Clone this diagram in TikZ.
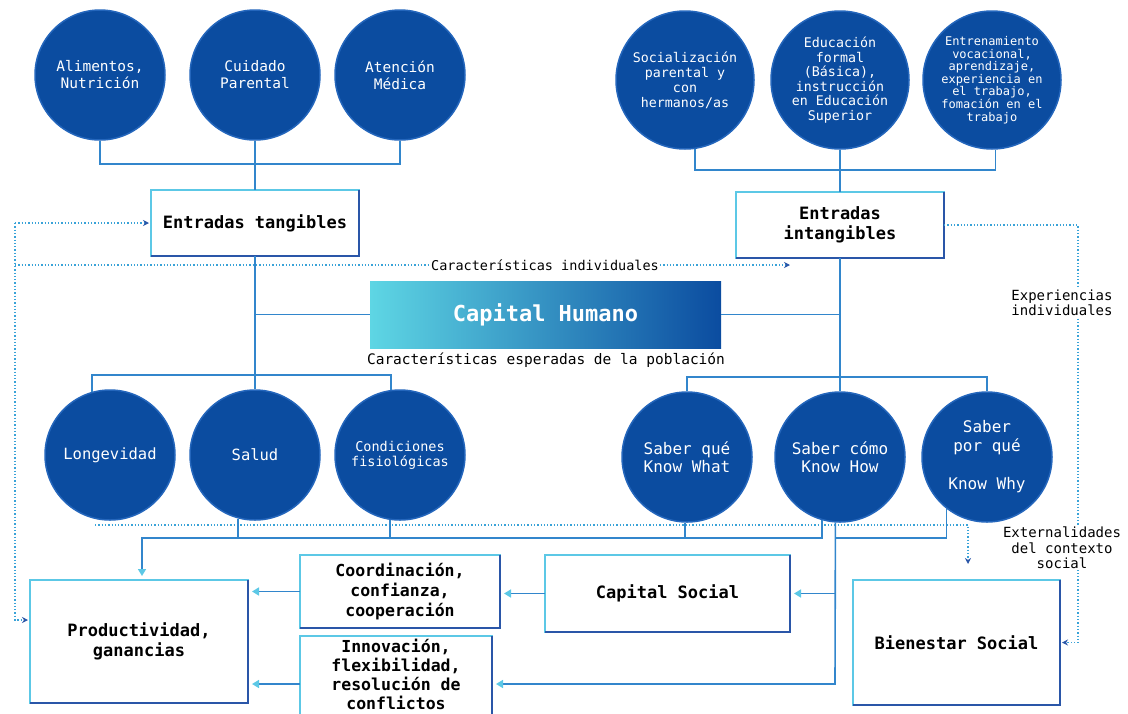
\documentclass[tikz,border=0pt]{standalone}
\usepackage{fontspec}
\setmainfont{DejaVu Sans Mono}
\usetikzlibrary{arrows.meta}

\definecolor{azul}{HTML}{0B4CA0}
\definecolor{bordec}{HTML}{2466BC}
\definecolor{cian}{HTML}{5CC8E6}
\definecolor{cianhum}{HTML}{5ED6E4}
\definecolor{oscuro}{HTML}{2A56A8}
\definecolor{linea}{HTML}{3286CC}
\definecolor{punto}{HTML}{3AA3D8}

\begin{document}
\begin{tikzpicture}[x=1pt, y=-1pt,
  circulo/.style={circle, fill=azul, draw=bordec, line width=1.5pt, inner sep=0pt, text=white, align=center},
  caja/.style={draw=cian, line width=1.6pt, fill=white, align=center, inner sep=0pt, outer sep=0pt,
    font=\bfseries\fontsize{17}{20}\selectfont},
  conn/.style={linea, line width=1.6pt},
  flecha/.style={conn, -{Triangle[length=7pt, width=8pt, color=cian]}, shorten >=4pt},
  punt/.style={punto, line width=1.3pt, dotted},
  ppunta/.style={-{Stealth[length=6pt, width=6pt, color=oscuro]}, shorten >=2pt},
  etiq/.style={fill=white, inner sep=1pt, align=center, font=\fontsize{14}{15.5}\selectfont}]
\useasboundingbox (0,0) rectangle (1128,713);
\def\ra{130pt} \def\rb{138pt}

% entradas tangibles
\node[circulo, minimum size=\ra, font=\fontsize{14.5}{17}\selectfont] (ali) at (100,75) {Alimentos,\\Nutrición};
\node[circulo, minimum size=\ra, font=\fontsize{14.5}{17}\selectfont] (cui) at (255,75) {Cuidado\\Parental};
\node[circulo, minimum size=\ra, font=\fontsize{14.5}{17}\selectfont] (ate) at (400,75) {Atención\\Médica};
\node[caja, minimum width=208pt, minimum height=66pt] (tang) at (255,223) {Entradas tangibles};

% entradas intangibles
\node[circulo, minimum size=\rb, font=\fontsize{13.3}{15}\selectfont] (soc) at (685,80)
  {Socialización\\parental y\\con\\hermanos/as};
\node[circulo, minimum size=\rb, font=\fontsize{13.3}{14.5}\selectfont] (edu) at (840,80)
  {Educación\\formal\\(Básica),\\instrucción\\en Educación\\Superior};
\node[circulo, minimum size=\rb, font=\fontsize{12}{12.6}\selectfont] (ent) at (992,80)
  {Entrenamiento\\vocacional,\\aprendizaje,\\experiencia en\\el trabajo,\\fomación en el\\trabajo};
\node[caja, minimum width=208pt, minimum height=66pt] (inta) at (840,225) {Entradas\\intangibles};

% capital humano
\node[minimum width=351pt, minimum height=67pt, inner sep=0pt, left color=cianhum, right color=azul,
  text=white, font=\bfseries\fontsize{22}{26}\selectfont] (capH) at (545.5,314.5) {Capital Humano};
\node[font=\fontsize{14.5}{16}\selectfont] (esp) at (546,360) {Características esperadas de la población};

% caracteristicas
\node[circulo, minimum size=\ra, font=\fontsize{15.5}{18}\selectfont] (lon) at (110,455) {Longevidad};
\node[circulo, minimum size=\ra, font=\fontsize{15.5}{18}\selectfont] (sal) at (255,455) {Salud};
\node[circulo, minimum size=\ra, font=\fontsize{13.5}{15}\selectfont] (cond) at (400,455) {Condiciones\\fisiológicas};
\node[circulo, minimum size=\ra, font=\fontsize{16}{18}\selectfont] (sq) at (687,457) {Saber qué\\Know What};
\node[circulo, minimum size=\ra, font=\fontsize{16}{18}\selectfont] (sc) at (840,457) {Saber cómo\\Know How};
\node[circulo, minimum size=\ra, font=\fontsize{16}{19}\selectfont] (spq) at (987,457) {Saber\\por qué\\[19pt]Know Why};

% resultados
\node[caja, minimum width=218pt, minimum height=123pt] (prod) at (139,641.5) {Productividad,\\ganancias};
\node[caja, minimum width=200pt, minimum height=73pt, font=\bfseries\fontsize{16.5}{20}\selectfont] (coord) at (400,591.5)
  {Coordinación,\\confianza,\\cooperación};
\node[caja, anchor=north, minimum width=192pt, inner ysep=3pt, text depth=12pt,
  font=\bfseries\fontsize{16.5}{19}\selectfont] (inno) at (396,636)
  {Innovación,\\flexibilidad,\\resolución de\\conflictos};
\node[caja, minimum width=245pt, minimum height=77pt] (cs) at (667.5,593.5) {Capital Social};
\node[caja, minimum width=207pt, minimum height=125pt] (bien) at (956.5,642.5) {Bienestar Social};

\foreach \b in {tang, inta, prod, coord, inno, cs, bien}
  \draw[oscuro, line width=1.6pt] (\b.north east) -- (\b.south east) -- (\b.south west);

% lineas punteadas
\coordinate (lt) at (15,223);
\coordinate (lm) at (15,265);
\coordinate (lb) at (15,620);
\coordinate (ci) at (792,265);
\coordinate (rt) at (1078,225);
\coordinate (pa) at (95,525);
\coordinate (pb) at (968,525);
\coordinate (pc) at (968,566);

\draw[punt, ppunta] (lt) -- (tang.west);
\draw[punt, ppunta] (lt) -- (lb) -- (lb -| prod.west);
\draw[punt, ppunta] (inta.east) -- (rt) |- (bien.east);
\draw[punt, ppunta] (pa) -- (pb) -- (pc);
\node[etiq, font=\fontsize{13.5}{15}\selectfont] (cind) at (545,265) {Características individuales};
\draw[punt] (lm) -- (cind);
\draw[punt, ppunta] (cind) -- (ci);
\node[etiq] (exp) at (1062,303) {Experiencias\\individuales};
\node[etiq] (ext) at (1062,548) {Externalidades\\del contexto\\social};

% conectores
\draw[conn] (ali.south) -- ++(0,23) -| (ate.south);
\draw[conn] (cui.south) -- (tang.north);
\draw[conn] (soc.278) -- ++(0,21) -| (ent.273);
\draw[conn] (edu.south) -- (inta.north);
\draw[conn] (tang.south) -- (sal.north);
\draw[conn] (inta.south) -- (sc.north);
\draw[conn] (capH.west) -- (capH.west -| tang.south);
\draw[conn] (capH.east) -- (capH.east -| inta.south);
\draw[conn] (lon.106) -- ++(0,-17) -| (cond.98);
\draw[conn] (sq.north) -- ++(0,-14) -| (spq.north);

\coordinate (pin) at (142,538);
\coordinate (ib) at (835,684);
\draw[flecha] (sc.254) |- (pin) -- (pin |- prod.north);
\foreach \a in {sal.255, cond.261, sq.268}
  \draw[conn] (\a) -- (\a |- pin);
\draw[conn] (spq.232) |- (ib |- pin);
\draw[flecha] (sc.266) -- (ib) -- (ib -| inno.east);
\draw[flecha] (ib |- cs.east) -- (cs.east);
\draw[flecha] (cs.west) -- (cs.west -| coord.east);
\draw[flecha] (coord.west) -- (coord.west -| prod.east);
\draw[flecha] (ib -| inno.west) -- (ib -| prod.east);
\end{tikzpicture}
\end{document}
